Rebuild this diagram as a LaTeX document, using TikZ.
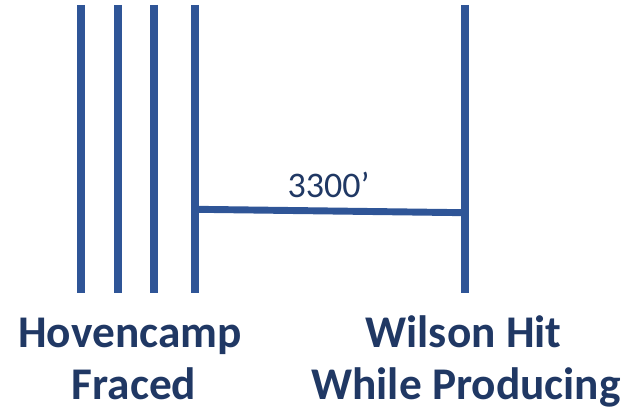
\documentclass[tikz,border=0pt]{standalone}
\usepackage{fontspec}
\setmainfont{Carlito}
\definecolor{wellblue}{HTML}{2F5597}
\definecolor{labelnavy}{HTML}{203864}
\tikzset{
  well/.style={draw=wellblue, line width=6pt},
  spacing/.style={draw=wellblue, line width=5.2pt},
  wellname/.style={text=labelnavy, font=\fontsize{34}{40}\selectfont\bfseries, anchor=base, inner sep=0pt},
  distlabel/.style={text=labelnavy, font=\fontsize{27}{32}\selectfont, anchor=base, inner sep=0pt}
}
\begin{document}
\begin{tikzpicture}[x=0.75pt, y=-0.75pt]
\useasboundingbox (0,0) rectangle (629,416);
% Hovencamp laterals
\coordinate (h1t) at (80.7,5);   \coordinate (h1b) at (80.7,293);
\coordinate (h2t) at (118.3,5);  \coordinate (h2b) at (118.3,293);
\coordinate (h3t) at (154.3,5);  \coordinate (h3b) at (154.3,293);
\coordinate (h4t) at (195,5);    \coordinate (h4b) at (195,293);
% Wilson lateral
\coordinate (wt) at (465,5);     \coordinate (wb) at (465,293);
\draw[well] (h1t) -- (h1b);
\draw[well] (h2t) -- (h2b);
\draw[well] (h3t) -- (h3b);
\draw[well] (h4t) -- (h4b);
\draw[well] (wt) -- (wb);
% spacing between the wells
\coordinate (sl) at (195,209.3);
\coordinate (sr) at (465,212.7);
\draw[spacing] (sl) -- (sr);
\node[distlabel] (dist) at (328.5,198) {3300’};
% well names
\node[wellname] (hov1) at (130,347.7) {Hovencamp};
\node[wellname] (hov2) at (134,400) {Fraced};
\node[wellname] (wil1) at (463.5,347.7) {Wilson Hit};
\node[wellname] (wil2) at (466,400) {While Producing};
\end{tikzpicture}
\end{document}
